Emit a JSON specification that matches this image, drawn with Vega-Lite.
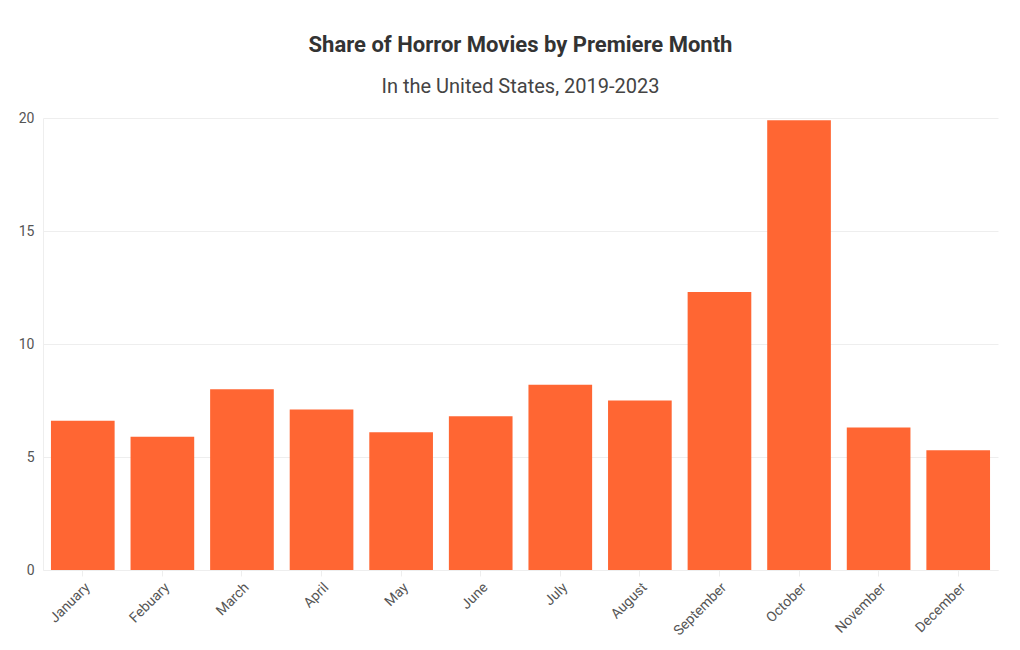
{
  "$schema": "https://vega.github.io/schema/vega-lite/v6.json",
  "width": 1020,
  "height": 650,
  "autosize": {"type": "fit", "contains": "padding"},
  "padding": {"left": 18, "right": 22, "top": 34, "bottom": 12},
  "background": "white",
  "title": {
    "text": "Share of Horror Movies by Premiere Month",
    "subtitle": "In the United States, 2019-2023",
    "anchor": "middle",
    "font": "Roboto",
    "fontSize": 22,
    "fontWeight": "bold",
    "color": "#333333",
    "subtitleFont": "Roboto",
    "subtitleFontSize": 20,
    "subtitleColor": "#444444",
    "subtitlePadding": 20,
    "offset": 13
  },
  "data": {
    "values": [
      {"month": "January", "share": 6.6},
      {"month": "Febuary", "share": 5.9},
      {"month": "March", "share": 8.0},
      {"month": "April", "share": 7.1},
      {"month": "May", "share": 6.1},
      {"month": "June", "share": 6.8},
      {"month": "July", "share": 8.2},
      {"month": "August", "share": 7.5},
      {"month": "September", "share": 12.3},
      {"month": "October", "share": 19.9},
      {"month": "November", "share": 6.3},
      {"month": "December", "share": 5.3}
    ]
  },
  "mark": {"type": "bar", "color": "#ff6633", "opacity": 1},
  "encoding": {
    "x": {
      "field": "month",
      "type": "nominal",
      "sort": null,
      "title": null,
      "scale": {"paddingInner": 0.2, "paddingOuter": 0.1},
      "axis": {
        "labelAngle": -45,
        "labelFont": "Roboto",
        "labelFontSize": 14,
        "labelColor": "#555555",
        "domainColor": "#eeeeee",
        "tickColor": "#eeeeee",
        "tickSize": 6,
        "labelPadding": 4
      }
    },
    "y": {
      "field": "share",
      "type": "quantitative",
      "title": null,
      "scale": {"domain": [0, 20]},
      "axis": {
        "values": [0, 5, 10, 15, 20],
        "labelFont": "Roboto",
        "labelFontSize": 14,
        "labelColor": "#555555",
        "domainColor": "#eeeeee",
        "gridColor": "#eeeeee",
        "ticks": false,
        "labelPadding": 9
      }
    }
  },
  "config": {"view": {"stroke": null}}
}
